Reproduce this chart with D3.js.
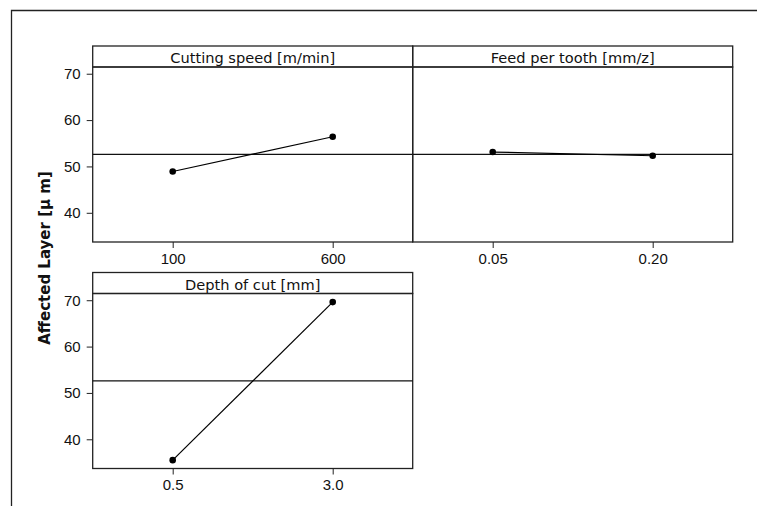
<!DOCTYPE html>
<html>
<head>
<meta charset="utf-8">
<script src="https://cdn.jsdelivr.net/npm/d3@7"></script>
<style>
    html, body {
        margin: 0;
        padding: 0;
        background: #fff;
    }
    svg {
        display: block;
        font-family: "DejaVu Sans", Verdana, sans-serif;
    }
    .tick text {
        font-size: 15px;
        fill: #111;
    }
    .tick line {
        stroke: #222;
    }
    text.strip {
        font-size: 14.6px;
        fill: #111;
    }
    text.ylabel {
        font-size: 15px;
        font-weight: bold;
        fill: #111;
    }
</style>
</head>
<body>
<div id="chart"></div>
<script>
    // main effects plot for Affected Layer (data means)
    var cuttingSpeedLevels = ["100", "600"];
    var cuttingSpeedMeans = [48.9, 56.4];

    var feedLevels = ["0.05", "0.20"];
    var feedMeans = [53.1, 52.3];

    var depthLevels = ["0.5", "3.0"];
    var depthMeans = [35.5, 69.6];

    var grandMean = 52.6;
    var yTicks = [40, 50, 60, 70];
    var yLabel = "Affected Layer [µ m]";

    var width = 757,
        height = 506;

    var panelW = 320,
        stripH = 21,
        plotH = 175,
        left = 92.7;

    var panels = [
        {title: "Cutting speed [m/min]", levels: cuttingSpeedLevels, means: cuttingSpeedMeans, x: left, top: 46, yAxis: true},
        {title: "Feed per tooth [mm/z]", levels: feedLevels, means: feedMeans, x: left + panelW, top: 46, yAxis: false},
        {title: "Depth of cut [mm]", levels: depthLevels, means: depthMeans, x: left, top: 272.5, yAxis: true}
    ];

    var svg = d3.select("#chart").append("svg")
        .attr("width", width)
        .attr("height", height);

    // outer frame (only left and top show in the window)
    svg.append("path")
        .attr("d", "M11.5," + height + "V10.5H" + width)
        .attr("fill", "none")
        .attr("stroke", "#222")
        .attr("stroke-width", 1.3);

    var y = d3.scaleLinear()
        .domain([33.7, 71.45])
        .range([plotH, 0]);

    panels.forEach(function (p) {
        var g = svg.append("g")
            .attr("transform", "translate(" + p.x + "," + (p.top + stripH) + ")");

        var x = d3.scalePoint()
            .domain(p.levels)
            .range([0, panelW])
            .padding(0.5);

        // strip
        g.append("rect")
            .attr("x", 0)
            .attr("y", -stripH)
            .attr("width", panelW)
            .attr("height", stripH)
            .attr("fill", "none")
            .attr("stroke", "#222")
            .attr("stroke-width", 1.3);

        g.append("text")
            .attr("class", "strip")
            .attr("x", panelW / 2)
            .attr("y", -4)
            .attr("text-anchor", "middle")
            .text(p.title);

        // plot border
        g.append("rect")
            .attr("width", panelW)
            .attr("height", plotH)
            .attr("fill", "none")
            .attr("stroke", "#222")
            .attr("stroke-width", 1.3);

        // grand mean reference line
        g.append("line")
            .attr("x1", 0)
            .attr("x2", panelW)
            .attr("y1", y(grandMean))
            .attr("y2", y(grandMean))
            .attr("stroke", "#111")
            .attr("stroke-width", 1.2);

        var xAxis = g.append("g")
            .attr("transform", "translate(0," + plotH + ")")
            .call(d3.axisBottom(x).tickSize(6).tickPadding(6));
        xAxis.select(".domain").remove();
        xAxis.selectAll("text").attr("dy", "0.71em").attr("y", 11);

        if (p.yAxis) {
            var yAxis = g.append("g")
                .call(d3.axisLeft(y).tickValues(yTicks).tickSize(6).tickPadding(6));
            yAxis.select(".domain").remove();
        }

        var pts = p.levels.map(function (l, i) {
            return [x(l), y(p.means[i])];
        });

        g.append("path")
            .datum(pts)
            .attr("d", d3.line())
            .attr("fill", "none")
            .attr("stroke", "#000")
            .attr("stroke-width", 1.2);

        g.selectAll("circle")
            .data(pts)
            .enter()
            .append("circle")
            .attr("cx", function (d) { return d[0]; })
            .attr("cy", function (d) { return d[1]; })
            .attr("r", 3.3)
            .attr("fill", "#000");
    });

    svg.append("text")
        .attr("class", "ylabel")
        .attr("transform", "translate(50,258) rotate(-90)")
        .attr("text-anchor", "middle")
        .text(yLabel);
</script>
</body>
</html>
